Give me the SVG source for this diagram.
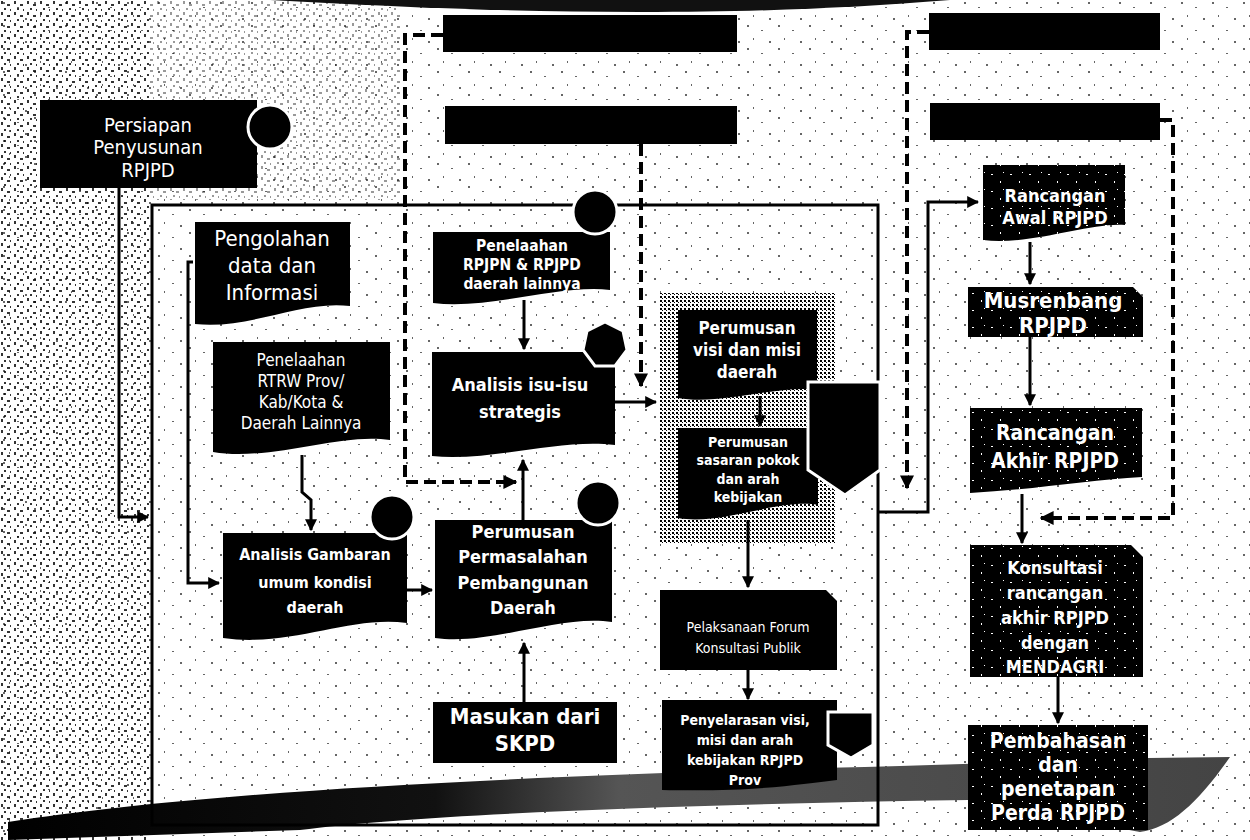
<svg xmlns="http://www.w3.org/2000/svg" width="1250" height="840" viewBox="0 0 1250 840">
<defs>
<style>
.t{fill:#fff;font-family:'Liberation Sans Narrow','DejaVu Sans Condensed','Liberation Sans',sans-serif;text-anchor:middle}
.b{font-weight:bold}
.n{fill:#000}
.sp{fill:url(#spk)}
.ln{fill:none;stroke:#000;stroke-width:3}
.ds{fill:none;stroke:#000;stroke-width:4;stroke-dasharray:12 6}
.dot{fill:#000;stroke:#fff;stroke-width:3}
</style>
<pattern id="noise" width="31" height="23" patternUnits="userSpaceOnUse">
<rect x="3" y="2" width="2" height="2" fill="#000"/>
<rect x="17" y="7" width="2" height="1" fill="#000"/>
<rect x="9" y="15" width="1" height="2" fill="#000"/>
<rect x="25" y="18" width="2" height="2" fill="#000"/>
</pattern>
<pattern id="dense" width="13" height="11" patternUnits="userSpaceOnUse">
<rect x="1" y="1" width="2" height="3" fill="#000"/>
<rect x="7" y="4" width="3" height="2" fill="#000"/>
<rect x="4" y="8" width="2" height="2" fill="#000"/>
<rect x="10" y="9" width="1" height="2" fill="#000"/>
</pattern>
<pattern id="gray" width="4" height="4" patternUnits="userSpaceOnUse">
<rect width="4" height="4" fill="#fff"/>
<rect x="0" y="0" width="2" height="2" fill="#000"/>
<rect x="2" y="2" width="1" height="1" fill="#000"/>
</pattern>
<pattern id="spk" width="19" height="17" patternUnits="userSpaceOnUse">
<rect width="19" height="17" fill="#000"/>
<rect x="3" y="4" width="2" height="1" fill="#fff"/>
<rect x="12" y="11" width="1" height="2" fill="#fff"/>
<rect x="15" y="2" width="1" height="1" fill="#fff"/>
</pattern>
<linearGradient id="band" x1="0" y1="0" x2="1" y2="0">
<stop offset="0" stop-color="#000"/>
<stop offset="0.35" stop-color="#111"/>
<stop offset="0.5" stop-color="#555"/>
<stop offset="1" stop-color="#444"/>
</linearGradient>
<marker id="ah" viewBox="0 0 10 10" refX="9" refY="5" markerWidth="4" markerHeight="4" orient="auto" markerUnits="strokeWidth">
<path d="M0,0 L10,5 L0,10 Z" fill="#000"/>
</marker>
<marker id="ahd" viewBox="0 0 10 10" refX="9" refY="5" markerWidth="3.5" markerHeight="3.5" orient="auto" markerUnits="strokeWidth">
<path d="M0,0 L10,5 L0,10 Z" fill="#000"/>
</marker>
</defs>

<g id="background">
<rect width="1250" height="840" fill="#fff"/>
<rect width="1250" height="840" fill="url(#noise)" opacity="0.6"/>
<rect x="0" y="0" width="150" height="840" fill="url(#dense)" opacity="0.8"/>
<rect x="150" y="0" width="250" height="200" fill="url(#dense)" opacity="0.4"/>
<path d="M270,0 L950,0 C850,8 760,12 640,12 C500,12 380,6 270,0 Z" fill="#111"/>
<path d="M8,822 C200,792 500,776 900,766 L1148,758 L1230,757 C1200,800 1172,828 1140,832 L968,800 C700,804 420,814 300,830 L8,840 Z" fill="url(#band)"/>
<rect x="660" y="293" width="175" height="250" fill="url(#gray)"/>
</g>

<g id="connectors">
<polyline class="ln" points="119,188 119,517 148,517" marker-end="url(#ah)"/>
<polyline class="ln" points="193,262 188,262 188,583 219,583" marker-end="url(#ah)"/>
<polyline class="ln" points="302,455 302,492 311,500 311,530" marker-end="url(#ah)"/>
<line class="ln" x1="407" y1="590" x2="432" y2="590" marker-end="url(#ah)"/>
<line class="ln" x1="524" y1="702" x2="524" y2="643" marker-end="url(#ah)"/>
<line class="ln" x1="523" y1="520" x2="523" y2="460" marker-end="url(#ah)"/>
<line class="ln" x1="524" y1="300" x2="524" y2="349" marker-end="url(#ah)"/>
<line class="ln" x1="615" y1="402" x2="656" y2="402" marker-end="url(#ah)"/>
<polyline class="ds" points="641,144 641,386" marker-end="url(#ahd)"/>
<polyline class="ds" points="443,35 405,35 405,482 516,482" marker-end="url(#ahd)"/>
<line class="ln" x1="760" y1="396" x2="760" y2="426" marker-end="url(#ah)"/>
<line class="ln" x1="748" y1="520" x2="748" y2="587" marker-end="url(#ah)"/>
<line class="ln" x1="748" y1="670" x2="748" y2="699" marker-end="url(#ah)"/>
<polyline class="ln" points="878,512 928,512 928,202 978,202" marker-end="url(#ah)"/>
<polyline class="ds" points="929,32 907,32 907,488" marker-end="url(#ahd)"/>
<line class="ln" x1="1030" y1="242" x2="1030" y2="284" marker-end="url(#ah)"/>
<line class="ln" x1="1030" y1="337" x2="1030" y2="405" marker-end="url(#ah)"/>
<line class="ln" x1="1022" y1="494" x2="1022" y2="543" marker-end="url(#ah)"/>
<polyline class="ds" points="1160,120 1173,120 1173,518 1041,518" marker-end="url(#ahd)"/>
<line class="ln" x1="1058" y1="677" x2="1058" y2="723" marker-end="url(#ah)"/>
<rect class="ln" x="152" y="205" width="726" height="620"/>
</g>

<g id="persiapan">
<rect class="n" x="40" y="100" width="217" height="88"/>
<circle class="dot" cx="270" cy="127" r="22"/>
<text class="t" font-size="20"><tspan x="148" y="132">Persiapan</tspan><tspan x="148" y="154">Penyusunan</tspan><tspan x="148" y="177">RPJPD</tspan></text>
</g>

<g id="bar-top-1"><rect class="n" x="443" y="15" width="294" height="37"/></g>
<g id="bar-top-2"><rect class="n" x="445" y="106" width="292" height="38"/></g>
<g id="bar-right-1"><rect class="n" x="929" y="13" width="231" height="37"/></g>
<g id="bar-right-2"><rect class="n" x="930" y="103" width="230" height="37"/></g>

<g id="pengolahan">
<path class="n" d="M195,222 H350 V306 C300,300 250,330 195,324 Z"/>
<text class="t" font-size="22"><tspan x="272" y="246">Pengolahan</tspan><tspan x="272" y="273">data dan</tspan><tspan x="272" y="300">Informasi</tspan></text>
</g>

<g id="penelaahan-rtrw">
<path class="n" d="M213,342 H390 V440 C340,432 270,462 213,452 Z"/>
<text class="t" font-size="17"><tspan x="301" y="366">Penelaahan</tspan><tspan x="301" y="387">RTRW Prov/</tspan><tspan x="301" y="408">Kab/Kota &amp;</tspan><tspan x="301" y="429">Daerah Lainnya</tspan></text>
</g>

<g id="analisis-gambaran">
<path class="n" d="M223,533 H407 V623 C350,615 290,648 223,638 Z"/>
<circle class="dot" cx="392" cy="517" r="22"/>
<text class="t b" font-size="16"><tspan x="315" y="560">Analisis Gambaran</tspan><tspan x="315" y="588">umum kondisi</tspan><tspan x="315" y="613">daerah</tspan></text>
</g>

<g id="penelaahan-rpjpn">
<path class="n" d="M433,232 H610 V290 C560,284 490,310 433,303 Z"/>
<circle class="dot" cx="595" cy="212" r="22"/>
<text class="t b" font-size="15.5"><tspan x="522" y="251">Penelaahan</tspan><tspan x="522" y="270">RPJPN &amp; RPJPD</tspan><tspan x="522" y="289">daerah lainnya</tspan></text>
</g>

<g id="analisis-isu">
<path class="n" d="M432,352 H615 V445 C560,438 490,462 432,456 Z"/>
<polygon class="dot" stroke-width="4" points="605,322 623,331 627,350 615,366 595,366 583,350 587,331"/>
<text class="t b" font-size="18"><tspan x="520" y="391">Analisis isu-isu</tspan><tspan x="520" y="418">strategis</tspan></text>
</g>

<g id="perumusan-permasalahan">
<path class="n" d="M435,520 H612 V622 C560,614 490,646 435,638 Z"/>
<circle class="dot" cx="598" cy="503" r="22"/>
<text class="t b" font-size="18"><tspan x="523" y="538">Perumusan</tspan><tspan x="523" y="563">Permasalahan</tspan><tspan x="523" y="589">Pembangunan</tspan><tspan x="523" y="614">Daerah</tspan></text>
</g>

<g id="masukan-skpd">
<rect class="n" x="433" y="702" width="184" height="61"/>
<text class="t b" font-size="22"><tspan x="525" y="724">Masukan dari</tspan><tspan x="525" y="751">SKPD</tspan></text>
</g>

<g id="perumusan-visi">
<path class="n" d="M678,310 H817 V390 C780,384 720,406 678,398 Z"/>
<text class="t b" font-size="17"><tspan x="747" y="334">Perumusan</tspan><tspan x="747" y="356">visi dan misi</tspan><tspan x="747" y="378">daerah</tspan></text>
</g>

<g id="perumusan-sasaran">
<path class="n" d="M678,428 H818 V505 C780,498 720,526 678,518 Z"/>
<text class="t b" font-size="14"><tspan x="748" y="447">Perumusan</tspan><tspan x="748" y="465">sasaran pokok</tspan><tspan x="748" y="484">dan arah</tspan><tspan x="748" y="502">kebijakan</tspan></text>
</g>

<g id="shield-visi">
<polygon class="dot" points="808,382 880,382 880,470 845,495 808,470"/>
</g>

<g id="pelaksanaan">
<path class="n" d="M660,590 H826 L837,601 V670 H660 Z"/>
<text class="t" font-size="14"><tspan x="748" y="632">Pelaksanaan Forum</tspan><tspan x="748" y="653">Konsultasi Publik</tspan></text>
</g>

<g id="penyelarasan">
<path class="n" d="M662,700 H837 V780 C800,784 760,792 662,790 Z"/>
<polygon class="dot" points="828,712 873,712 873,745 851,758 828,745"/>
<text class="t b" font-size="14"><tspan x="745" y="725">Penyelarasan visi,</tspan><tspan x="745" y="745">misi dan arah</tspan><tspan x="745" y="765">kebijakan RPJPD</tspan><tspan x="745" y="785">Prov</tspan></text>
</g>

<g id="rancangan-awal">
<path class="sp" d="M983,165 H1125 V225 C1090,222 1030,246 983,240 Z"/>
<text class="t b" font-size="18"><tspan x="1055" y="202">Rancangan</tspan><tspan x="1055" y="224">Awal RPJPD</tspan></text>
</g>

<g id="musrenbang">
<path class="sp" d="M968,287 H1133 L1143,297 V337 H968 Z"/>
<text class="t b" font-size="22"><tspan x="1053" y="308">Musrenbang</tspan><tspan x="1053" y="333">RPJPD</tspan></text>
</g>

<g id="rancangan-akhir">
<path class="sp" d="M970,408 H1142 V477 C1090,480 1030,490 970,493 Z"/>
<text class="t b" font-size="21"><tspan x="1055" y="440">Rancangan</tspan><tspan x="1055" y="468">Akhir RPJPD</tspan></text>
</g>

<g id="konsultasi">
<path class="sp" d="M970,545 H1131 L1143,557 V677 H970 Z"/>
<text class="t b" font-size="18"><tspan x="1055" y="574">Konsultasi</tspan><tspan x="1055" y="599">rancangan</tspan><tspan x="1055" y="624">akhir RPJPD</tspan><tspan x="1055" y="649">dengan</tspan><tspan x="1055" y="673">MENDAGRI</tspan></text>
</g>

<g id="pembahasan">
<rect class="sp" x="968" y="725" width="180" height="105"/>
<text class="t b" font-size="21"><tspan x="1058" y="748">Pembahasan</tspan><tspan x="1058" y="772">dan</tspan><tspan x="1058" y="796">penetapan</tspan><tspan x="1058" y="820">Perda RPJPD</tspan></text>
</g>
</svg>
